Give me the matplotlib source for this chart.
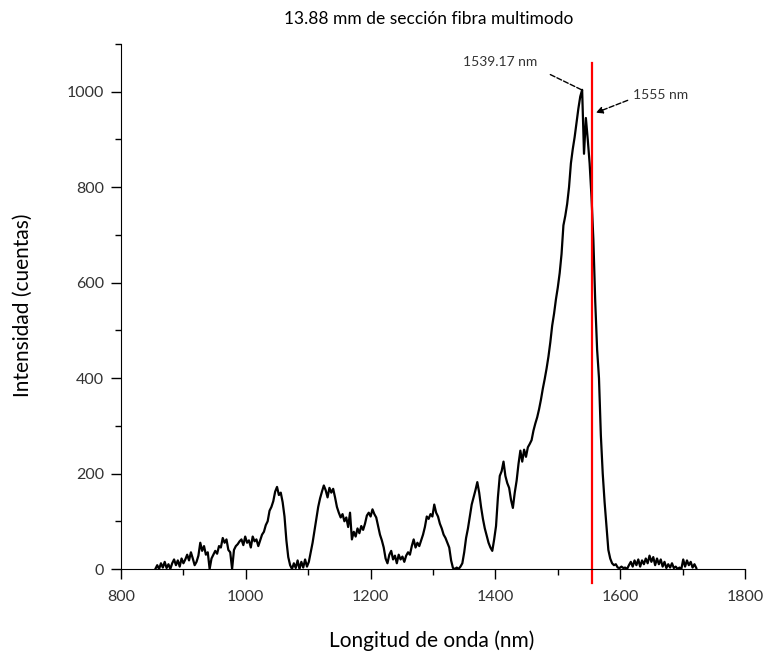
import numpy as np
import matplotlib
matplotlib.use("Agg")
import matplotlib.pyplot as plt
from matplotlib.ticker import MultipleLocator

plt.rcParams['font.family'] = ['Lato', 'DejaVu Sans']

# espectro medido, paso de 3 nm desde 855 nm
lambda_inicio = 855
paso = 3
intensidad = [
    0, 8, 0, 12, 3, 15, 2, 10, 0, 12,              # 855
    20, 8, 18, 5, 22, 12, 20, 30, 18, 35,          # 885
    22, 8, 15, 28, 55, 38, 48, 30, 35, 0,          # 915
    22, 30, 38, 32, 48, 45, 65, 55, 62, 40,        # 945
    35, 0, 40, 48, 52, 58, 62, 50, 68, 55,         # 975
    60, 45, 68, 58, 62, 48, 60, 72, 78, 92,        # 1005
    100, 122, 130, 142, 162, 172, 155, 160, 140, 110,  # 1035
    60, 25, 8, 0, 12, 2, 18, 0, 15, 3,             # 1065
    20, 5, 15, 35, 55, 80, 105, 130, 148, 162,     # 1095
    175, 165, 150, 170, 160, 168, 150, 130, 118, 108,  # 1125
    115, 100, 108, 88, 118, 62, 78, 68, 85, 75,    # 1155
    90, 82, 95, 112, 118, 110, 125, 115, 108, 90,  # 1185
    72, 60, 45, 22, 12, 30, 38, 20, 28, 12,        # 1215
    30, 20, 26, 15, 28, 35, 30, 48, 62, 45,        # 1245
    55, 48, 60, 72, 88, 110, 105, 115, 110, 135,   # 1275
    118, 110, 95, 85, 72, 65, 55, 45, 18, 2,       # 1305
    0, 3, 0, 5, 12, 35, 65, 85, 110, 135,          # 1335
    150, 165, 182, 160, 130, 105, 85, 70, 55, 45,  # 1365
    38, 62, 90, 150, 195, 205, 225, 195, 180, 170,  # 1395
    145, 128, 160, 185, 220, 248, 225, 250, 235, 255,  # 1425
    262, 270, 290, 305, 318, 335, 355, 378, 398, 420,  # 1455
    445, 475, 510, 535, 565, 590, 620, 660, 720, 740,  # 1485
    765, 800, 850, 880, 905, 935, 965, 990, 1004, 870,  # 1515
    945, 900, 850, 780, 690, 560, 460, 400, 280, 200,  # 1545
    140, 90, 40, 22, 12, 8, 10, 3, 2, 5,           # 1575
    2, 3, 0, 8, 15, 5, 18, 8, 20, 5,               # 1605
    18, 10, 22, 12, 28, 15, 25, 8, 22, 10,         # 1635
    20, 5, 15, 2, 10, 3, 12, 2, 5, 0,              # 1665
    3, 0, 20, 5, 18, 8, 15, 3, 10, 2,              # 1695
]
longitud = lambda_inicio + paso * np.arange(len(intensidad))

pico = (1539.17, 1004)
referencia = 1555

fig = plt.figure(figsize=(7.67, 6.52), dpi=100)
ax = fig.add_axes([0.1578, 0.1273, 0.8135, 0.8052])

ax.plot(longitud, intensidad, color='black', lw=1.6)
ax.plot([referencia, referencia], [-30, 1060], color='red', lw=1.6, clip_on=False)

ax.set_xlim(800, 1800)
ax.set_ylim(0, 1100)
ax.spines['top'].set_visible(False)
ax.spines['right'].set_visible(False)
ax.xaxis.set_major_locator(MultipleLocator(200))
ax.xaxis.set_minor_locator(MultipleLocator(100))
ax.yaxis.set_major_locator(MultipleLocator(200))
ax.yaxis.set_minor_locator(MultipleLocator(100))
ax.tick_params(which='major', length=7, width=1, direction='out', labelsize=11.5,
               labelcolor='#333333')
ax.tick_params(which='minor', length=4, width=1, direction='out')
ax.tick_params(axis='x', pad=8)
ax.tick_params(axis='y', pad=5)

fig.text(0.559, 0.971, '13.88 mm de sección fibra multimodo', ha='center', va='center', fontsize=12.5)
fig.text(0.563, 0.017, 'Longitud de onda (nm)', ha='center', va='center', fontsize=15)
fig.text(0.03, 0.532, 'Intensidad (cuentas)', ha='center', va='center', rotation=90, fontsize=15)

# etiquetas del pico y de la referencia
ax.text(1407, 1062, f'{pico[0]:.2f} nm', fontsize=10, color='#333333', ha='center', va='center')
ax.annotate('', xy=(pico[0] - 1, pico[1]), xytext=(1488, 1036),
            arrowprops=dict(arrowstyle='-', ls='--', color='black', lw=1,
                            shrinkA=0, shrinkB=0))
ax.text(1665, 994, f'{referencia} nm', fontsize=10, color='#333333', ha='center', va='center')
ax.annotate('', xy=(1561, 956), xytext=(1612, 982),
            arrowprops=dict(arrowstyle='-|>', ls='--', color='black', lw=1,
                            mutation_scale=10, shrinkA=0, shrinkB=0))

fig.savefig('out.png', dpi=100)
